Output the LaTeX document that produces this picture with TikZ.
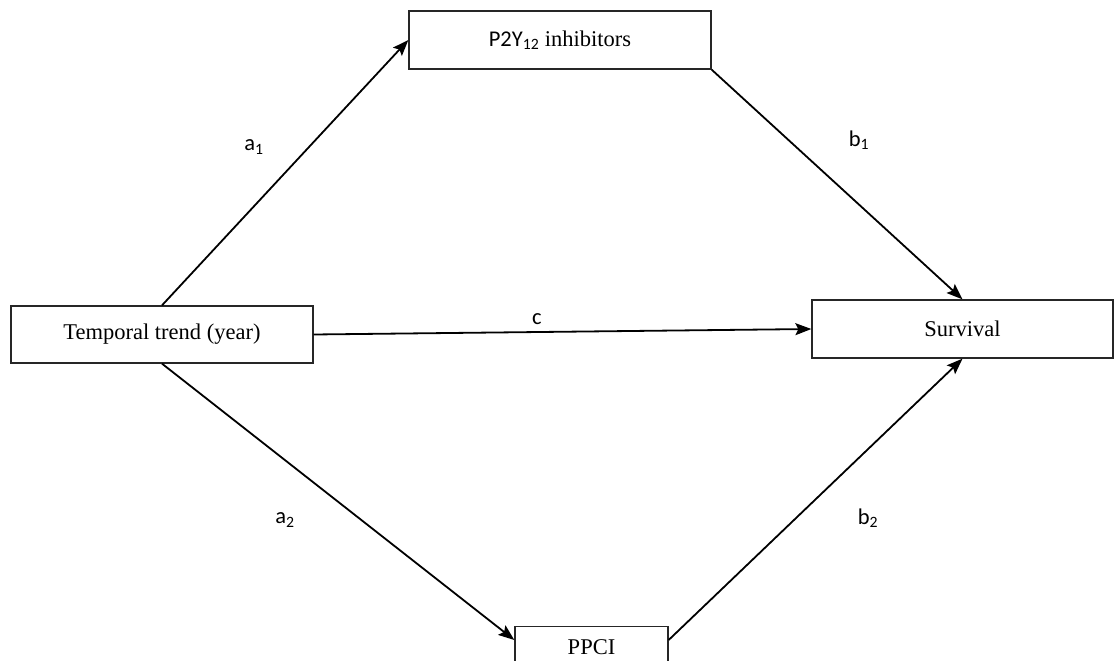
\documentclass[tikz,border=0pt]{standalone}
\usepackage{fontspec}
\setmainfont{Liberation Serif}
\newfontfamily\carlito{Carlito}
\usetikzlibrary{arrows.meta,calc}
\tikzset{
  boxnode/.style={draw=black!85, line width=1.3pt, rectangle, inner sep=0pt,
    font=\fontsize{22.5}{26}\selectfont},
  conn/.style={line width=1.8pt, -{Stealth[length=16pt,width=12pt,inset=3pt]}},
  lbl/.style={font=\carlito\fontsize{22.5}{26}\selectfont, inner sep=0pt}
}
\begin{document}
\begin{tikzpicture}[x=1pt,y=-1pt]
\path[use as bounding box] (0,0) rectangle (1114,661);
\clip (0,0) rectangle (1114,661);
\node[boxnode, minimum width=302pt, minimum height=58pt] (T) at (560,40) {{\carlito P2Y\textsubscript{12}} inhibitors};
\node[boxnode, minimum width=302pt, minimum height=57pt] (L) at (162,334.5) {Temporal trend (year)};
\node[boxnode, minimum width=301pt, minimum height=58pt] (S) at (962.5,329) {Survival};
\node[boxnode, minimum width=153pt, minimum height=60pt, anchor=north] (P) at (591.5,626) {};
\node[font=\fontsize{22.5}{26}\selectfont, inner sep=0pt] (Ptext) at (591.5,647) {PPCI};
\coordinate (Pin) at ($(P.north west)+(0,14)$);
\coordinate (Pout) at ($(P.north east)+(0,14)$);
\draw[conn] (L.north) -- (T.west);
\draw[conn] (T.south east) -- (S.north);
\draw[conn] (L.east) -- (S.west);
\draw[conn] (L.south) -- (Pin);
\draw[conn] (Pout) -- (S.south);
\node[lbl] (a1) at (254,147) {a\textsubscript{1}};
\node[lbl] (b1) at (859,140) {b\textsubscript{1}};
\node[lbl] (c) at (537,319) {c};
\node[lbl] (a2) at (285,520) {a\textsubscript{2}};
\node[lbl] (b2) at (868,518) {b\textsubscript{2}};
\end{tikzpicture}
\end{document}
